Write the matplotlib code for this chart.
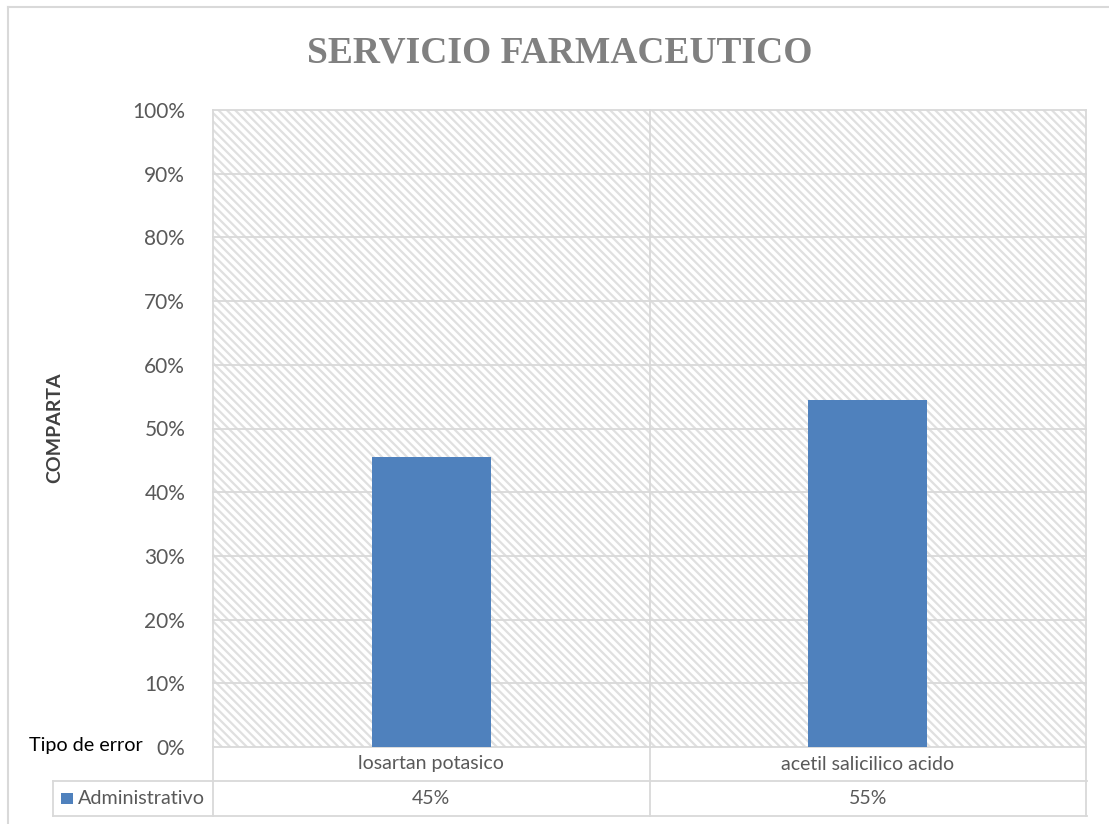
import matplotlib
matplotlib.use('Agg')
import matplotlib.pyplot as plt
from matplotlib.patches import Rectangle
from matplotlib.lines import Line2D
from matplotlib.transforms import blended_transform_factory
import numpy as np

# ---- data ----
categories = ['losartan potasico', 'acetil salicilico acido']
values = [0.4545, 0.5455]
table_values = ['45%', '55%']
series_name = 'Administrativo'
yticks = [0.0, 0.1, 0.2, 0.3, 0.4, 0.5, 0.6, 0.7, 0.8, 0.9, 1.0]
ytick_labels = ['0%', '10%', '20%', '30%', '40%', '50%', '60%', '70%', '80%', '90%', '100%']
title = 'SERVICIO FARMACEUTICO'
ylabel = 'COMPARTA'
corner_label = 'Tipo de error'

W, H = 1109, 824
DPI = 100
plt.rcParams['hatch.linewidth'] = 1.6
plt.rcParams['font.family'] = ['Lato', 'DejaVu Sans']

GRID = '#d9d9d9'
TXT = '#595959'
BAR = '#4f81bd'

fig = plt.figure(figsize=(W / DPI, H / DPI), dpi=DPI)
fig.patch.set_facecolor('white')


def fx(px):
    return px / W


def fy(py):
    return 1 - py / H


L, R, T, B = 213, 1086, 110, 747
ax = fig.add_axes([fx(L), fy(B), fx(R) - fx(L), fy(T) - fy(B)])
x = np.arange(len(categories))
ax.set_xlim(-0.5, len(categories) - 0.5)
ax.set_ylim(0, 1)
ax.set_facecolor('white')
bg = Rectangle((0, 0), 1, 1, transform=ax.transAxes, facecolor='white',
               edgecolor='#e0e0e0', hatch='\\\\\\\\', lw=0, zorder=0)
ax.add_patch(bg)
ax.bar(x, values, width=0.273, color=BAR, zorder=3)
ax.set_yticks(yticks)
ax.set_yticklabels(ytick_labels, fontsize=15, color=TXT)
ax.tick_params(axis='y', length=0, pad=20)
ax.set_xticks([])
for yv in yticks:
    ax.axhline(yv, color=GRID, lw=1.3, zorder=1, clip_on=False)
for xb in np.arange(-0.5, len(categories), 1.0):
    ax.axvline(xb, color=GRID, lw=1.3, zorder=1, clip_on=False)
for s in ax.spines.values():
    s.set_visible(False)

# ---- data table under the chart ----
blend = blended_transform_factory(ax.transData, fig.transFigure)
row1, row2, row3 = 747, 781, 816
left_tab = 53
lines = []
lines.append(Line2D([fx(left_tab), fx(R + 1)], [fy(row2), fy(row2)], transform=fig.transFigure))
lines.append(Line2D([fx(left_tab), fx(R + 1)], [fy(row3), fy(row3)], transform=fig.transFigure))
lines.append(Line2D([fx(left_tab), fx(left_tab)], [fy(row2), fy(row3)], transform=fig.transFigure))
for xb in np.arange(-0.5, len(categories), 1.0):
    lines.append(Line2D([xb, xb], [fy(row1), fy(row3)], transform=blend))
for ln in lines:
    ln.set_color(GRID)
    ln.set_linewidth(1.3)
    fig.add_artist(ln)

for xi, cat, val in zip(x, categories, table_values):
    ax.text(xi, fy(764), cat, transform=blend, ha='center', va='center',
            fontsize=14, color=TXT, clip_on=False)
    ax.text(xi, fy(798.5), val, transform=blend, ha='center', va='center',
            fontsize=14, color=TXT, clip_on=False)

fig.add_artist(Rectangle((fx(61), fy(804)), fx(73) - fx(61), fy(793) - fy(804),
                         transform=fig.transFigure, facecolor=BAR, edgecolor='none'))
fig.text(fx(78), fy(798.5), series_name, ha='left', va='center', fontsize=14.2, color=TXT)
fig.text(fx(29), fy(745), corner_label, ha='left', va='center', fontsize=14.2, color='black')

# ---- titles ----
fig.text(fx(560), fy(53), title, ha='center', va='center', fontsize=27,
         fontweight='bold', color='#808080', family=['Liberation Serif', 'DejaVu Serif'])
fig.text(fx(55), fy(428), ylabel, rotation=90, ha='center', va='center',
         fontsize=14, fontweight='bold', color='#404040')

# ---- outer border (left & top visible) ----
fig.add_artist(Line2D([fx(8), fx(8)], [fy(7), 0], transform=fig.transFigure, color=GRID, lw=1.5))
fig.add_artist(Line2D([fx(8), 1], [fy(7), fy(7)], transform=fig.transFigure, color=GRID, lw=1.5))

fig.savefig('out.png', dpi=DPI, facecolor='white')
